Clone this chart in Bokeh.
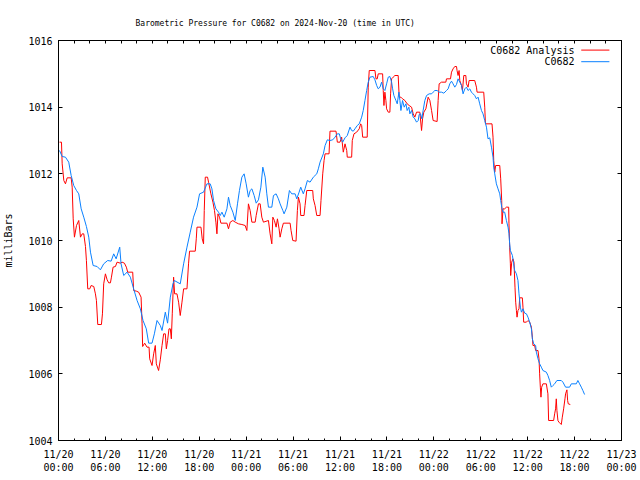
from bokeh.plotting import figure
from bokeh.models import Range1d, FixedTicker, LinearAxis, Label, Arrow
from bokeh.embed import file_html
from bokeh.resources import INLINE

title_text = "Barometric Pressure for C0682 on 2024-Nov-20 (time in UTC)"
y_label = "milliBars"
series_names = ["C0682 Analysis", "C0682"]
series_colors = ["#ff0000", "#0a80ff"]

x_tick_hours = [0, 6, 12, 18, 24, 30, 36, 42, 48, 54, 60, 66, 72]
x_minor_hours = [h for h in range(0, 73, 2) if h % 6 != 0]
x_tick_labels = ["11/20\n00:00", "11/20\n06:00", "11/20\n12:00", "11/20\n18:00",
                 "11/21\n00:00", "11/21\n06:00", "11/21\n12:00", "11/21\n18:00",
                 "11/22\n00:00", "11/22\n06:00", "11/22\n12:00", "11/22\n18:00",
                 "11/23\n00:00"]
y_ticks = [1004, 1006, 1008, 1010, 1012, 1014, 1016]

# hours since 2024-11-20 00:00 UTC
analysis_hours = [0.13, 0.38, 0.47, 0.68, 0.89, 1.11, 1.62, 1.75, 1.88, 2.04, 2.30, 2.59, 2.81, 3.03, 3.23,
    3.45, 3.57, 3.74, 4.00, 4.17, 4.51, 4.72, 4.85, 5.02, 5.49, 5.62, 5.78, 6.00, 6.22, 6.42, 6.64,
    6.77, 6.98, 7.28, 7.49, 7.91, 8.13, 8.43, 8.68, 8.85, 9.49, 9.61, 9.96, 10.25, 10.56, 10.69, 10.76,
    11.02, 11.32, 11.58, 11.66, 11.96, 12.17, 12.38, 12.51, 12.80, 13.02, 13.24, 13.45, 13.66, 13.79,
    13.95, 14.13, 14.30, 14.43, 14.55, 14.72, 14.85, 15.15, 15.36, 15.57, 15.79, 16.00, 16.43, 16.63,
    16.76, 17.49, 17.62, 17.71, 18.22, 18.38, 18.55, 18.64, 18.77, 19.06, 19.19, 19.49, 19.75, 19.95,
    20.13, 20.26, 20.39, 20.59, 20.77, 21.54, 21.74, 21.96, 22.30, 22.60, 23.02, 23.45, 23.87, 24.09,
    24.29, 24.51, 24.73, 25.15, 25.28, 25.57, 25.79, 26.00, 26.21, 26.85, 27.06, 27.28, 27.41, 27.61,
    27.83, 28.00, 28.21, 28.34, 28.56, 28.76, 29.62, 29.74, 29.96, 30.38, 30.55, 30.68, 30.89, 30.98,
    31.40, 31.53, 31.75, 32.51, 32.59, 32.81, 33.03, 33.45, 33.57, 33.79, 33.96, 34.09, 34.60, 34.72,
    35.49, 35.66, 36.00, 36.21, 36.42, 36.64, 36.86, 36.93, 37.49, 37.57, 37.79, 38.13, 38.46, 38.64,
    38.77, 38.90, 39.48, 39.61, 39.74, 40.47, 40.60, 40.76, 40.89, 41.45, 41.53, 41.62, 41.74, 41.87,
    41.96, 42.17, 42.38, 42.47, 42.60, 42.80, 43.02, 43.44, 43.57, 43.79, 44.00, 44.30, 44.59, 44.85,
    45.15, 45.36, 45.57, 45.79, 46.21, 46.43, 46.56, 46.72, 46.98, 47.27, 47.49, 47.71, 47.91, 48.42,
    48.55, 48.68, 48.98, 49.53, 49.62, 50.13, 50.26, 50.46, 50.68, 50.90, 50.97, 51.10, 51.23, 51.32,
    51.54, 51.66, 51.83, 52.09, 52.17, 52.38, 52.51, 53.23, 53.45, 53.53, 54.38, 54.51, 54.60, 55.44,
    55.57, 55.66, 55.79, 55.91, 56.43, 56.55, 56.68, 56.72, 56.85, 57.06, 57.28, 57.57, 57.61, 57.70,
    57.79, 57.83, 57.96, 58.12, 58.25, 58.38, 58.47, 58.56, 58.64, 58.76, 58.89, 58.98, 59.32, 59.40,
    59.49, 59.84, 60.04, 60.26, 60.48, 60.60, 60.68, 60.89, 61.02, 61.32, 61.45, 61.53, 61.62, 61.70,
    61.79, 61.95, 62.39, 62.59, 62.68, 63.32, 63.45, 63.57, 63.66, 63.74, 63.87, 64.00, 64.30, 64.43,
    64.60, 64.77, 64.85, 65.02, 65.11, 65.19, 65.45]
analysis_mb = [1012.95, 1012.95, 1012.3, 1011.8, 1011.7, 1011.88, 1011.88, 1011.6, 1010.65, 1010.1, 1010.45,
    1010.6, 1010.1, 1010.2, 1010.2, 1009.82, 1009.4, 1008.55, 1008.55, 1008.65, 1008.62, 1008.4, 1008.2,
    1007.48, 1007.48, 1007.8, 1008.7, 1009.0, 1008.82, 1008.73, 1008.73, 1008.9, 1009.2, 1009.22,
    1009.35, 1009.32, 1009.35, 1009.32, 1009.2, 1009.05, 1009.05, 1008.5, 1008.48, 1008.45, 1008.3,
    1007.5, 1006.82, 1006.92, 1006.8, 1006.8, 1006.45, 1006.25, 1006.6, 1006.85, 1006.3, 1006.1,
    1006.42, 1006.85, 1007.2, 1007.2, 1006.75, 1007.0, 1007.35, 1007.35, 1007.05, 1007.8, 1008.9,
    1008.4, 1008.4, 1008.15, 1007.75, 1008.15, 1008.55, 1008.55, 1009.3, 1009.68, 1009.68, 1010.05,
    1010.4, 1010.4, 1010.05, 1009.9, 1010.9, 1011.9, 1011.9, 1011.75, 1011.4, 1011.15, 1010.9,
    1010.55, 1010.2, 1010.8, 1010.7, 1010.52, 1010.52, 1010.35, 1010.55, 1010.6, 1010.55, 1010.5,
    1010.48, 1010.45, 1010.3, 1011.1, 1010.9, 1010.55, 1010.55, 1010.75, 1011.1, 1011.1, 1010.7,
    1010.55, 1010.6, 1010.2, 1009.9, 1010.7, 1010.6, 1010.4, 1010.65, 1010.35, 1010.1, 1010.35,
    1010.52, 1010.52, 1010.3, 1010.0, 1009.98, 1010.9, 1011.3, 1011.1, 1010.75, 1010.75, 1011.05,
    1011.5, 1011.5, 1011.25, 1011.05, 1010.75, 1010.75, 1011.2, 1012.0, 1012.4, 1012.6, 1012.6,
    1013.28, 1013.28, 1012.95, 1012.95, 1013.1, 1012.65, 1012.9, 1012.7, 1012.5, 1012.5, 1013.0,
    1013.2, 1013.25, 1013.35, 1013.5, 1013.45, 1013.1, 1013.1, 1014.6, 1015.1, 1015.1, 1014.85,
    1014.85, 1015.0, 1015.0, 1014.5, 1014.05, 1014.45, 1014.2, 1013.95, 1013.85, 1013.85, 1014.4,
    1014.85, 1014.9, 1014.95, 1014.95, 1014.3, 1014.3, 1014.25, 1014.2, 1014.1, 1014.05, 1014.0,
    1013.8, 1013.7, 1013.85, 1013.85, 1013.3, 1013.65, 1013.85, 1013.95, 1014.3, 1014.2, 1013.9,
    1013.6, 1013.57, 1014.2, 1014.7, 1014.75, 1014.75, 1014.85, 1014.85, 1015.05, 1015.15, 1015.22,
    1015.22, 1015.1, 1014.95, 1015.1, 1014.8, 1014.65, 1014.5, 1014.95, 1014.95, 1014.7, 1014.6,
    1014.8, 1014.8, 1014.6, 1014.45, 1014.45, 1014.0, 1013.5, 1013.5, 1013.1, 1012.4, 1012.05,
    1012.25, 1012.25, 1011.85, 1011.2, 1010.5, 1010.95, 1010.95, 1011.0, 1011.0, 1010.5, 1009.8,
    1009.3, 1008.95, 1009.35, 1009.45, 1009.35, 1008.6, 1008.15, 1007.9, 1007.7, 1007.9, 1007.95,
    1008.28, 1008.28, 1008.0, 1007.55, 1007.55, 1007.6, 1007.55, 1007.4, 1007.1, 1006.85, 1006.85,
    1006.7, 1006.7, 1006.45, 1006.0, 1005.6, 1005.3, 1005.6, 1005.7, 1005.7, 1005.4, 1004.6, 1004.6,
    1004.8, 1004.95, 1005.25, 1004.9, 1004.6, 1004.55, 1004.48, 1004.7, 1004.95, 1005.25, 1005.4,
    1005.52, 1005.2, 1005.1, 1005.08]

obs_hours = [0.13, 0.47, 0.89, 1.31, 1.62, 1.95, 2.30, 2.59, 2.90, 3.23, 3.57, 3.87, 4.09, 4.43, 4.94,
    5.36, 5.78, 6.29, 6.73, 7.06, 7.37, 7.83, 8.00, 8.34, 8.77, 9.19, 9.61, 10.05, 10.47, 10.81, 11.23,
    11.53, 11.96, 12.26, 12.60, 13.02, 13.24, 13.66, 13.95, 14.30, 14.64, 14.81, 15.57, 16.00, 16.43,
    16.85, 17.27, 17.71, 18.04, 18.55, 18.98, 19.40, 19.62, 19.83, 20.13, 20.46, 20.68, 20.90, 21.19,
    21.54, 21.74, 21.96, 22.30, 22.60, 22.89, 23.14, 23.45, 23.74, 24.00, 24.29, 24.51, 24.73, 25.02,
    25.28, 25.57, 25.88, 26.13, 26.43, 26.64, 26.85, 27.28, 27.49, 27.83, 28.12, 28.34, 28.69, 28.85,
    29.20, 29.53, 29.83, 30.26, 30.47, 30.77, 30.98, 31.31, 31.53, 31.83, 32.17, 32.59, 33.03, 33.23,
    33.45, 33.87, 34.09, 34.38, 34.72, 35.07, 35.36, 35.66, 35.91, 36.09, 36.34, 36.64, 36.93, 37.28,
    37.49, 37.70, 37.91, 38.21, 38.46, 38.77, 38.97, 39.19, 39.41, 39.61, 39.83, 40.25, 40.47, 40.69,
    40.89, 41.11, 41.32, 41.53, 41.74, 41.96, 42.17, 42.38, 42.60, 42.73, 42.89, 43.15, 43.32, 43.53,
    43.66, 43.79, 44.00, 44.21, 44.43, 44.59, 44.81, 44.94, 45.15, 45.36, 45.57, 45.79, 46.00, 46.12,
    46.30, 46.47, 46.63, 46.85, 47.07, 47.40, 47.71, 47.91, 48.13, 48.42, 48.68, 48.98, 49.28, 49.62,
    49.83, 50.04, 50.26, 50.46, 50.68, 50.90, 51.10, 51.32, 51.54, 51.74, 51.96, 52.17, 52.38, 52.60,
    52.81, 53.02, 53.23, 53.45, 53.66, 53.87, 54.09, 54.29, 54.51, 54.73, 54.93, 55.15, 55.37, 55.57,
    55.66, 55.79, 56.00, 56.21, 56.43, 56.55, 56.68, 56.85, 57.06, 57.28, 57.49, 57.61, 57.70, 57.79,
    58.05, 58.21, 58.34, 58.56, 58.76, 58.89, 59.07, 59.20, 59.40, 59.62, 59.84, 60.04, 60.26, 60.48,
    60.60, 60.77, 61.02, 61.11, 61.32, 61.53, 61.75, 61.95, 62.39, 62.59, 62.81, 63.02, 63.23, 63.45,
    63.74, 64.30, 64.51, 64.85, 65.36, 65.58, 66.22, 66.42, 66.64, 66.86, 67.06, 67.28]
obs_mb = [1012.7, 1012.52, 1012.5, 1012.35, 1011.95, 1011.65, 1011.5, 1011.4, 1010.95, 1010.7, 1010.42,
    1010.1, 1009.65, 1009.25, 1009.22, 1009.12, 1009.3, 1009.4, 1009.38, 1009.6, 1009.45, 1009.8,
    1009.3, 1008.95, 1009.05, 1008.9, 1008.55, 1008.2, 1007.95, 1007.6, 1007.35, 1006.92, 1006.92,
    1007.2, 1007.6, 1007.45, 1007.3, 1007.85, 1007.52, 1008.3, 1008.7, 1008.8, 1008.7, 1009.3, 1009.8,
    1010.25, 1010.7, 1011.0, 1011.4, 1011.45, 1011.7, 1011.7, 1011.55, 1011.2, 1010.95, 1010.85,
    1010.75, 1010.85, 1010.7, 1010.95, 1011.3, 1011.05, 1010.85, 1010.6, 1011.1, 1011.5, 1011.9,
    1012.0, 1011.7, 1011.3, 1011.5, 1011.55, 1011.35, 1011.12, 1011.22, 1011.6, 1012.2, 1011.9,
    1011.4, 1011.0, 1011.0, 1011.35, 1011.4, 1011.25, 1011.1, 1010.9, 1010.8, 1011.0, 1011.5, 1011.4,
    1011.4, 1011.25, 1011.45, 1011.6, 1011.4, 1011.55, 1011.8, 1011.75, 1011.9, 1012.0, 1012.15,
    1012.35, 1012.6, 1012.85, 1013.02, 1013.0, 1013.02, 1013.1, 1013.2, 1013.2, 1013.05, 1012.95,
    1013.08, 1013.15, 1013.4, 1013.3, 1013.28, 1013.35, 1013.45, 1013.5, 1013.7, 1013.9, 1014.2,
    1014.5, 1014.75, 1014.9, 1014.92, 1014.82, 1014.65, 1014.55, 1014.6, 1014.75, 1014.55, 1014.5,
    1014.7, 1014.9, 1014.92, 1014.75, 1014.55, 1014.35, 1014.2, 1014.1, 1014.45, 1014.2, 1013.9,
    1014.2, 1014.0, 1014.1, 1013.9, 1014.0, 1013.8, 1013.9, 1013.7, 1013.65, 1013.55, 1013.6,
    1013.78, 1013.8, 1013.65, 1013.9, 1014.2, 1014.35, 1014.4, 1014.4, 1014.45, 1014.5, 1014.5,
    1014.45, 1014.45, 1014.42, 1014.5, 1014.55, 1014.7, 1014.78, 1014.7, 1014.6, 1014.68, 1014.85,
    1014.75, 1014.65, 1014.4, 1014.55, 1014.6, 1014.5, 1014.55, 1014.45, 1014.4, 1014.35, 1014.25,
    1014.3, 1014.1, 1013.9, 1013.8, 1013.6, 1013.4, 1013.05, 1013.08, 1012.8, 1012.5, 1012.2, 1012.0,
    1011.7, 1011.55, 1011.4, 1011.2, 1011.0, 1010.85, 1010.85, 1010.6, 1010.4, 1010.2, 1009.9, 1009.7,
    1009.55, 1009.3, 1009.1, 1009.0, 1008.8, 1008.4, 1008.0, 1007.85, 1007.95, 1007.82, 1007.8,
    1007.7, 1007.55, 1007.35, 1007.05, 1006.9, 1006.85, 1006.65, 1006.45, 1006.3, 1006.2, 1006.1,
    1006.05, 1005.95, 1005.8, 1005.6, 1005.65, 1005.7, 1005.8, 1005.8, 1005.75, 1005.6, 1005.6, 1005.7,
    1005.7, 1005.8, 1005.7, 1005.6, 1005.5, 1005.38]

FONT = "DejaVu Sans Mono"
W, H = 640, 480
X0, X1 = 0, 72
Y0, Y1 = 1004, 1016

p = figure(width=W, height=H, output_backend="svg", toolbar_location=None,
           x_range=Range1d(X0, X1), y_range=Range1d(Y0, Y1),
           min_border_left=58, min_border_right=19, min_border_top=40, min_border_bottom=40,
           background_fill_color="white", border_fill_color="white")
p.grid.visible = False
p.outline_line_color = "black"
p.outline_line_width = 1

p.title.text = title_text
p.title.text_font = FONT
p.title.text_font_size = "8px"
p.title.text_font_style = "normal"
p.title.text_color = "black"
p.title.align = "left"
p.title.offset = 77
p.title.standoff = 26


def style_axis(ax, ticker, major_in=4, minor_in=2):
    ax.ticker = ticker
    ax.major_tick_in = major_in
    ax.major_tick_out = 0
    ax.minor_tick_in = minor_in
    ax.minor_tick_out = 0
    ax.axis_line_color = "black"
    ax.major_tick_line_color = "black"
    ax.minor_tick_line_color = "black"
    ax.major_label_text_font = FONT
    ax.major_label_text_font_size = "10px"
    ax.major_label_text_color = "black"


xa = p.xaxis[0]
style_axis(xa, FixedTicker(ticks=x_tick_hours, minor_ticks=x_minor_hours))
xa.major_label_overrides = {h: lab for h, lab in zip(x_tick_hours, x_tick_labels)}
xa.major_label_standoff = 8

ya = p.yaxis[0]
style_axis(ya, FixedTicker(ticks=y_ticks, minor_ticks=[]))
ya.major_label_standoff = 6
ya.axis_label = y_label
ya.axis_label_text_font = FONT
ya.axis_label_text_font_size = "10px"
ya.axis_label_text_font_style = "normal"
ya.axis_label_text_color = "black"
ya.axis_label_standoff = 11

# mirrored tick marks (no labels) on the top and right borders
top = LinearAxis()
style_axis(top, FixedTicker(ticks=[], minor_ticks=sorted(x_tick_hours + x_minor_hours)), minor_in=3)
p.add_layout(top, "above")
right = LinearAxis()
style_axis(right, FixedTicker(ticks=[], minor_ticks=y_ticks), minor_in=4)
p.add_layout(right, "right")

p.line(analysis_hours, analysis_mb, line_color=series_colors[0], line_width=1)
p.line(obs_hours, obs_mb, line_color=series_colors[1], line_width=1)

# gnuplot-style key (text, then sample line), inside the top-right corner
span_x = X1 - X0
span_y = Y1 - Y0
for i, (name, col) in enumerate(zip(series_names, series_colors)):
    yy = Y1 - span_y * (0.024 + 0.029 * i)
    p.add_layout(Label(x=X1 - span_x * 0.0835, y=yy, text=name,
                       text_align="right", text_baseline="middle", text_font=FONT,
                       text_font_size="10px", text_color="black"))
    p.add_layout(Arrow(start=None, end=None,
                       x_start=X1 - span_x * 0.0715, y_start=yy,
                       x_end=X1 - span_x * 0.0215, y_end=yy,
                       line_color=col, line_width=1))

open("out.html", "w").write(file_html(p, INLINE))
